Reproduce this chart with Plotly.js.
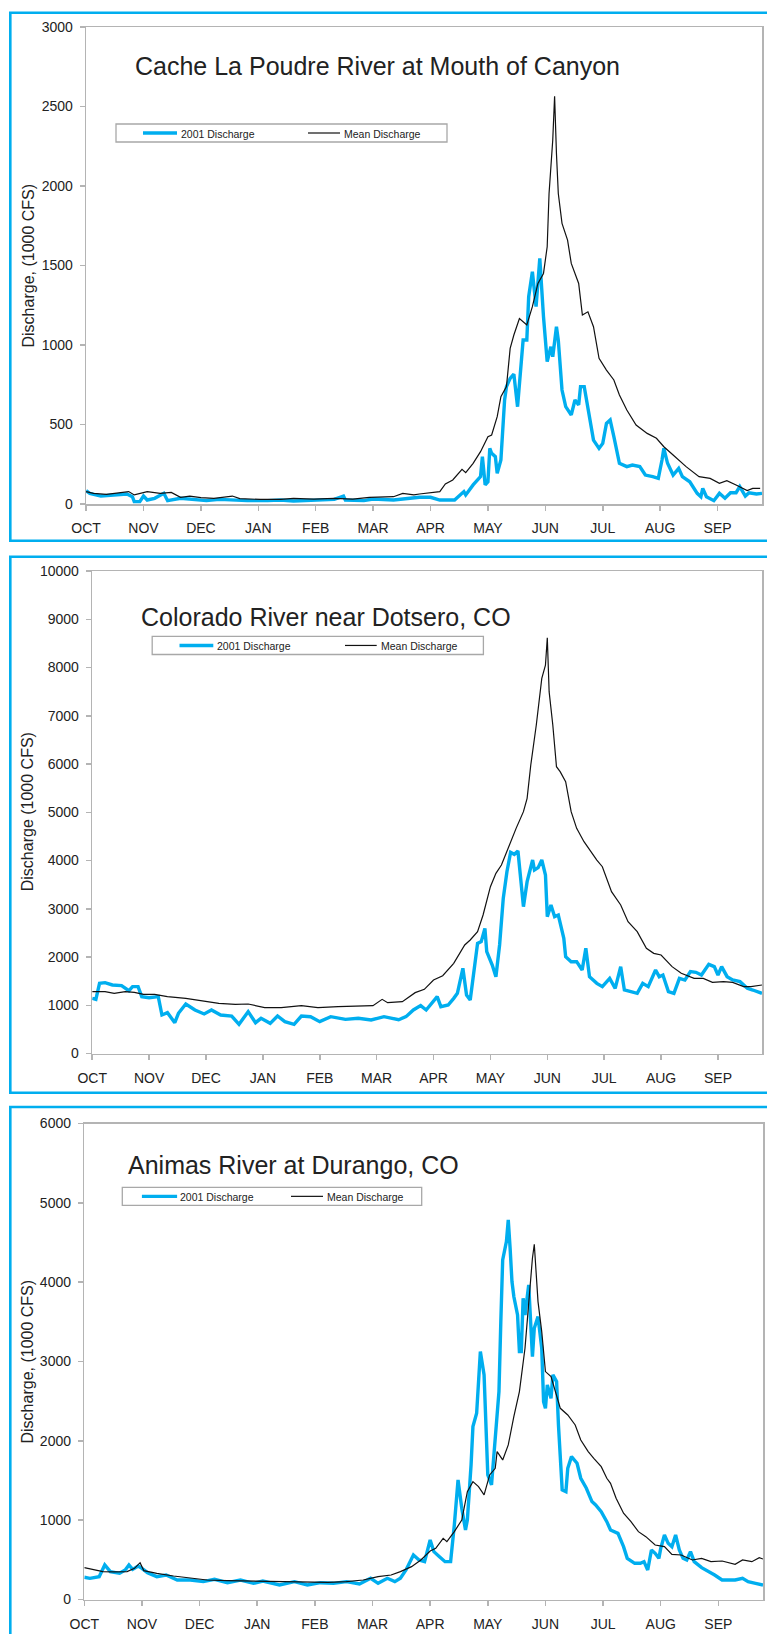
<!DOCTYPE html>
<html>
<head>
<meta charset="utf-8">
<script src="https://cdn.plot.ly/plotly-3.0.1.min.js"></script>
<style>html,body{margin:0;padding:0;background:#fff;}#chart{width:767px;height:1634px;}</style>
</head>
<body>
<div id="chart"></div>
<script>
// ---- tick labels (category-style month ticks every 31 days) ----
const monthLabels = ["OCT","NOV","DEC","JAN","FEB","MAR","APR","MAY","JUN","JUL","AUG","SEP"];
const monthTickDays = [0,31,62,93,124,155,186,217,248,279,310,341];

const seriesNames = ["2001 Discharge","Mean Discharge"];
const chartTitles = ["Cache La Poudre River at Mouth of Canyon","Colorado River near Dotsero, CO","Animas River at Durango, CO"];
const yTitles = ["Discharge, (1000 CFS)","Discharge (1000 CFS)","Discharge, (1000 CFS)"];

// ---- Cache La Poudre ----
const poudre2001Days = [0,2,8,15,22,25,26,29,31,33,37,42,44,51,58,65,72,80,87,98,105,112,123,134,139,140,150,155,166,173,180,186,191,199,204,205,209,213,214,215.5,217,218,219,221,222,224,226,227,229,231,233,236,238,239,241,243,245,247,249,251,252,254,255,257,259,262,264,266,267,269,271,274,277,279,281,283,285,288,292,295,299,302,306,309,311,312,314,317,320,322,326,330,332,333,335,339,342,345,348,351,353,356,358,362,365];
const poudre2001 = [84,67,50,57,63,46,15,15,50,25,36,67,21,36,29,21,29,25,21,21,25,19,25,29,50,25,21,31,25,36,42,42,25,25,78,57,120,172,298,120,140,350,319,298,193,277,654,738,790,817,612,1031,1031,1304,1461,1241,1545,1178,895,989,926,1115,1031,717,612,560,654,623,738,738,602,402,350,381,507,528,423,256,235,245,235,182,172,161,277,350,256,182,224,172,140,67,46,98,46,21,67,36,71,71,109,50,71,63,67];
const poudreMeanDays = [0,4,11,23,26,33,40,46,51,56,62,69,79,83,94,105,112,123,134,144,153,159,166,171,177,180,186,191,194,198,203,205,209,213,217,219,222,224,227,229,231,234,238,241,244,247,249,250,252,253,254,255,257,260,262,266,268,271,274,277,281,285,288,292,297,303,308,312,317,324,331,337,342,346,351,357,360,364];
const poudreMean = [78,67,61,78,57,78,67,73,42,50,40,36,50,34,29,29,36,31,36,31,42,46,46,67,57,63,71,78,126,151,218,197,256,329,423,434,549,675,738,979,1063,1167,1126,1241,1387,1450,1618,1953,2289,2565,2205,1953,1765,1660,1513,1387,1188,1209,1115,916,842,780,685,591,497,444,413,360,308,235,172,161,130,147,119,84,98,98];

// ---- Colorado River near Dotsero ----
const colorado2001Days = [0,2,4,7,11,16,20,22,25,27,31,36,38,41,45,47,51,56,61,65,70,76,80,85,89,92,97,101,105,110,114,119,124,130,138,145,152,159,167,171,175,179,182,185,188,190,194,197,199,202,204,206,208,210,212,214,215,218,220,222,224,226,228,230,232,233,235,237,238,240,241,243,245,247,248,250,252,254,257,258,261,264,267,269,271,275,278,282,285,288,290,293,297,300,303,307,309,311,314,317,320,323,326,329,332,336,339,341,343,346,349,353,357,360,365];
const colorado2001 = [1143,1122,1454,1468,1420,1406,1302,1385,1385,1178,1157,1178,798,846,639,833,1026,902,819,902,798,777,605,867,639,729,625,777,660,605,777,763,660,763,708,729,694,763,700,764,902,992,902,1040,1178,971,1005,1143,1247,1765,1212,1109,1696,2283,2318,2594,2110,1834,1592,2249,3216,3769,4170,4128,4197,3769,3043,3561,3699,4010,3803,3851,4010,3699,2836,3078,2836,2870,2387,2007,1903,1903,1730,2180,1592,1454,1385,1558,1351,1800,1316,1282,1247,1454,1385,1730,1592,1627,1282,1247,1558,1523,1696,1682,1627,1848,1800,1627,1800,1592,1523,1489,1351,1316,1247];
const coloradoMeanDays = [0,7,12,18,23,28,34,41,51,60,69,78,85,94,103,114,123,134,145,153,158,161,169,176,181,186,191,197,203,206,210,213,217,220,223,228,231,235,237,239,242,245,247,248,249,251,253,255,258,261,264,268,271,275,278,283,288,292,297,302,306,310,316,321,328,333,338,344,349,355,359,365];
const coloradoMean = [1281,1281,1247,1281,1268,1226,1226,1178,1143,1095,1040,1019,1026,950,950,991,950,971,991,991,1122,1053,1074,1261,1330,1523,1613,1869,2249,2352,2525,2870,3457,3734,3906,4390,4666,5012,5288,5979,6808,7775,8051,8618,7499,6808,5944,5841,5634,5012,4666,4390,4217,4010,3872,3354,3078,2732,2525,2180,2076,2041,1800,1662,1558,1558,1475,1489,1475,1385,1385,1420];

// ---- Animas River at Durango ----
const animas2001Days = [0,3,8,11,14,19,22,24,26,29,31,34,39,44,50,57,64,70,77,84,91,96,105,113,120,127,134,141,148,154,158,163,167,170,173,175,177,180,183,186,188,191,194,197,199,201,203,205,206,208,209,211,213,215,216,217,219,221,223,224,225,227,228,229,230,231,233,234,235,236,237,239,241,242,244,246,247,248,249,251,252,254,255,257,259,260,262,265,267,270,273,275,278,281,283,287,290,292,296,299,301,303,305,307,309,310,312,314,316,318,320,322,324,326,328,332,336,339,343,346,350,354,357,361,365];
const animas2001 = [280,267,288,435,351,330,372,435,380,422,393,338,288,309,246,246,225,254,212,246,204,233,183,225,183,212,204,225,195,267,204,267,225,267,372,477,561,498,477,750,603,540,477,477,939,1507,1150,876,1002,1696,2179,2347,3125,2831,2200,1570,1444,1990,2621,3503,4281,4512,4785,4428,4008,3819,3587,3125,3125,3798,3587,3965,3062,3419,3566,3167,2494,2410,2704,2536,2831,2747,2200,1381,1360,1654,1801,1717,1528,1402,1234,1192,1108,981,876,834,666,519,456,456,477,372,624,582,519,645,813,708,666,813,624,519,498,603,477,401,351,309,246,246,246,267,225,204,183];
const animasMeanDays = [0,5,10,16,23,27,30,32,39,48,57,66,77,88,98,109,120,131,141,150,158,165,170,176,181,186,189,193,195,199,203,206,209,212,215,218,221,222,225,228,231,234,237,239,241,242,244,246,248,251,254,256,260,264,267,271,274,278,281,283,286,290,294,298,302,307,312,316,321,327,332,337,343,350,354,359,363,365];
const animasMean = [401,380,351,347,351,393,464,364,330,296,267,246,237,233,225,216,212,216,225,246,288,309,351,414,498,611,645,771,729,855,1002,1360,1486,1423,1318,1570,1654,1864,1759,1948,2305,2621,3167,3755,4302,4478,3755,3377,2873,2810,2578,2410,2326,2200,2011,1864,1780,1675,1528,1465,1276,1087,981,855,792,687,666,569,561,498,519,477,485,443,498,477,527,510];

// ---------------- drawing ----------------
const W = 767, H = 1634;
const X = p => p / W;
const Y = p => 1 - p / H;
const FONT = "Liberation Sans, Arial, Helvetica, sans-serif";
const CYAN = "#00AEEF";
const GRAY = "#b4b4b4";
const TXT = "#222222";

const panels = [
  {d2001: poudre2001Days, v2001: poudre2001, dMean: poudreMeanDays, vMean: poudreMean, yMax: 3000, dtick: 500,
   plot: {l: 86.1, r: 762, t: 27, b: 504}, border: {t: 12.8, b: 540.8},
   title: {x: 133, y: 66.5}, ytitleX: 28,
   legend: {l: 116, r: 447, t: 124, b: 142, b0: 143, b1: 177, bt: 179, k0: 308, k1: 340, kt: 342}},
  {d2001: colorado2001Days, v2001: colorado2001, dMean: coloradoMeanDays, vMean: coloradoMean, yMax: 10000, dtick: 1000,
   plot: {l: 92.2, r: 762, t: 571, b: 1053.5}, border: {t: 556.8, b: 1092.8},
   title: {x: 139, y: 617}, ytitleX: 27,
   legend: {l: 152.2, r: 483.4, t: 636.4, b: 654.5, b0: 179.5, b1: 213.3, bt: 215.3, k0: 345, k1: 376.7, kt: 379.2}},
  {d2001: animas2001Days, v2001: animas2001, dMean: animasMeanDays, vMean: animasMean, yMax: 6000, dtick: 1000,
   plot: {l: 84.3, r: 763, t: 1123.5, b: 1599.5}, border: {t: 1107, b: 1700},
   title: {x: 126, y: 1164.7}, ytitleX: 27,
   legend: {l: 122.3, r: 421.7, t: 1187.3, b: 1205.4, b0: 141.9, b1: 177.1, bt: 178, k0: 291, k1: 323, kt: 324.9}}
];

const data = [];
const layout = {
  width: W, height: H,
  margin: {l: 0, r: 0, t: 0, b: 0, pad: 0},
  paper_bgcolor: "#ffffff", plot_bgcolor: "rgba(0,0,0,0)",
  showlegend: false,
  font: {family: FONT, color: TXT},
  shapes: [], annotations: []
};

panels.forEach((p, i) => {
  const n = i === 0 ? "" : String(i + 1);
  const xa = "x" + n, ya = "y" + n;
  data.push({x: p.d2001, y: p.v2001, xaxis: xa, yaxis: ya, type: "scatter", mode: "lines",
             name: seriesNames[0], line: {color: CYAN, width: 3.4}, hoverinfo: "skip"});
  data.push({x: p.dMean, y: p.vMean, xaxis: xa, yaxis: ya, type: "scatter", mode: "lines",
             name: seriesNames[1], line: {color: "#111111", width: 1.2}, hoverinfo: "skip"});

  layout["xaxis" + n] = {
    domain: [X(p.plot.l), X(p.plot.r)], anchor: ya, range: [0, 365],
    tickmode: "array", tickvals: monthTickDays, ticktext: monthLabels,
    ticks: "outside", ticklen: 5, tickwidth: 1.5, tickcolor: GRAY,
    showline: true, linecolor: GRAY, linewidth: 1.5, mirror: true,
    showgrid: false, zeroline: false, ticklabelstandoff: 6,
    tickfont: {family: FONT, size: 14, color: TXT}
  };
  layout["yaxis" + n] = {
    domain: [Y(p.plot.b), Y(p.plot.t)], anchor: xa, range: [0, p.yMax],
    tick0: 0, dtick: p.dtick, tickformat: "d", exponentformat: "none",
    ticks: "outside", ticklen: 5, tickwidth: 1.5, tickcolor: GRAY,
    showline: true, linecolor: GRAY, linewidth: 1.5, mirror: true,
    showgrid: false, zeroline: false, ticklabelstandoff: 4,
    tickfont: {family: FONT, size: 14, color: TXT}
  };

  // panel frame
  layout.shapes.push({type: "rect", xref: "paper", yref: "paper",
    x0: X(10.3), x1: X(800), y0: Y(p.border.b), y1: Y(p.border.t),
    line: {color: CYAN, width: 2.6}, fillcolor: "rgba(0,0,0,0)"});

  // legend box
  const L = p.legend, ly = (L.t + L.b) / 2;
  layout.shapes.push({type: "rect", xref: "paper", yref: "paper",
    x0: X(L.l), x1: X(L.r), y0: Y(L.b), y1: Y(L.t),
    line: {color: "#a8a8a8", width: 1.3}, fillcolor: "#ffffff"});
  layout.shapes.push({type: "line", xref: "paper", yref: "paper",
    x0: X(L.b0), x1: X(L.b1), y0: Y(ly), y1: Y(ly), line: {color: CYAN, width: 3.4}});
  layout.shapes.push({type: "line", xref: "paper", yref: "paper",
    x0: X(L.k0), x1: X(L.k1), y0: Y(ly), y1: Y(ly), line: {color: "#111111", width: 1.2}});
  layout.annotations.push({xref: "paper", yref: "paper", x: X(L.bt), y: Y(ly + 0.5),
    xanchor: "left", yanchor: "middle", showarrow: false, text: seriesNames[0],
    font: {family: FONT, size: 10.5, color: TXT}});
  layout.annotations.push({xref: "paper", yref: "paper", x: X(L.kt), y: Y(ly + 0.5),
    xanchor: "left", yanchor: "middle", showarrow: false, text: seriesNames[1],
    font: {family: FONT, size: 10.5, color: TXT}});

  // chart title
  layout.annotations.push({xref: "paper", yref: "paper", x: X(p.title.x), y: Y(p.title.y),
    xanchor: "left", yanchor: "middle", showarrow: false, text: chartTitles[i],
    font: {family: FONT, size: 25, color: TXT}});

  // y-axis title
  layout.annotations.push({xref: "paper", yref: "paper", x: X(p.ytitleX), y: Y((p.plot.t + p.plot.b) / 2),
    xanchor: "center", yanchor: "middle", showarrow: false, textangle: -90, text: yTitles[i],
    font: {family: FONT, size: 16, color: TXT}});
});

Plotly.newPlot("chart", data, layout, {staticPlot: true, displayModeBar: false});
</script>
</body>
</html>
